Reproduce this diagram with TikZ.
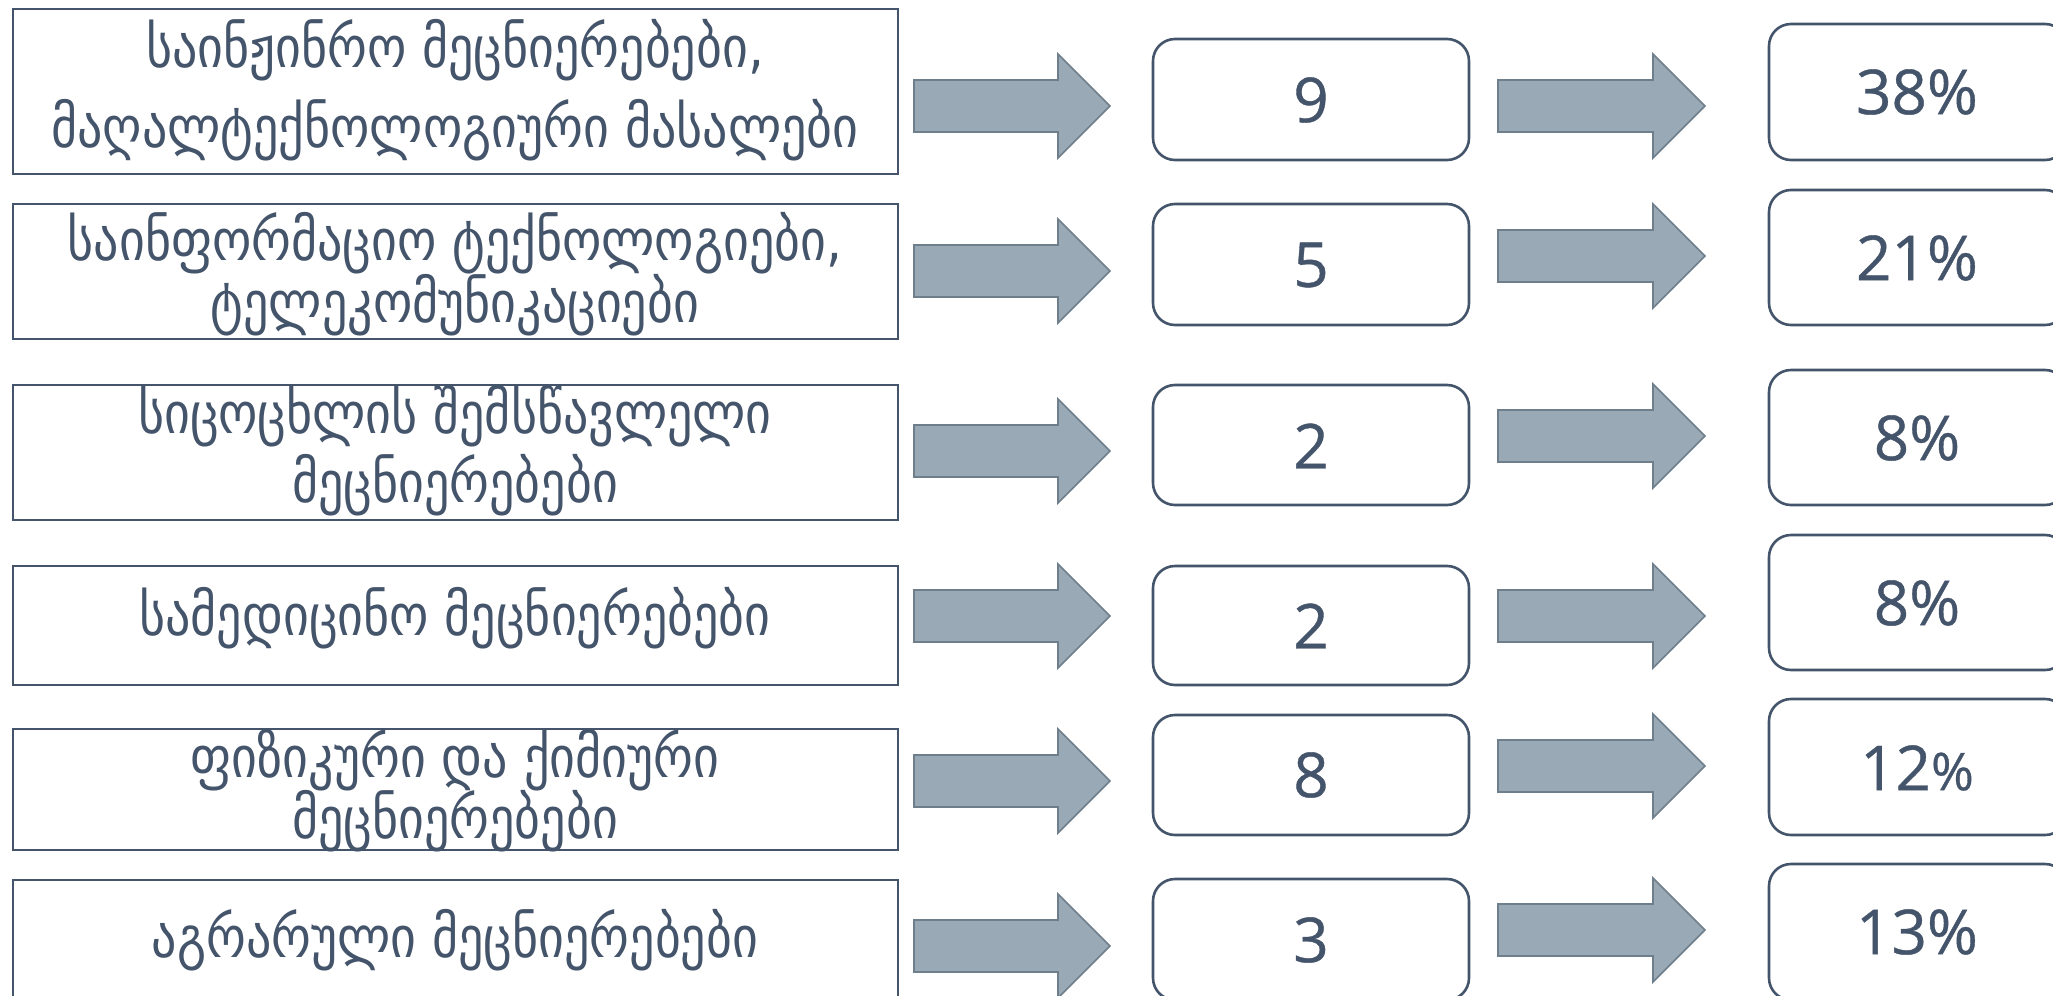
\documentclass[tikz,border=0pt]{standalone}
\usepackage{fontspec}
\setmainfont{DejaVu Sans}
\newfontfamily\numfont[FakeBold=0.6]{Open Sans}
\definecolor{slate}{HTML}{44546A}
\definecolor{arrowfill}{HTML}{9AA9B6}
\definecolor{arrowline}{HTML}{6F7E8B}

% block arrow: start x, head base x, tip x, centre y
\newcommand\blockarr[4]{%
  \draw[blockarrow] (#1,#4-26) -- (#2,#4-26) -- (#2,#4-52) -- (#3,#4)
    -- (#2,#4+52) -- (#2,#4+26) -- (#1,#4+26) -- cycle;}
% Georgian labels are set a little taller than the font's own proportions
\newcommand\tallword[1]{\scalebox{1}[1.15]{#1}}

\begin{document}
\begin{tikzpicture}[x=0.5pt,y=-0.5pt,
  catbox/.style={draw=slate, line width=1.2pt},
  valbox/.style={draw=slate, line width=1.3pt, rounded corners=11pt},
  blockarrow/.style={fill=arrowfill, draw=arrowline, line width=0.8pt, line join=miter},
  cattext/.style={anchor=base, inner sep=0pt, text=slate, font=\fontsize{25}{30}\selectfont},
  valtext/.style={inner sep=0pt, text=slate, font=\numfont\fontsize{31}{36}\selectfont},
]
\useasboundingbox (0,0) rectangle (2053,996);
\clip (0,0) rectangle (2053,996);

% category frames
\draw[catbox] (13,9)   rectangle (898,174);
\draw[catbox] (13,204) rectangle (898,339);
\draw[catbox] (13,385) rectangle (898,520);
\draw[catbox] (13,566) rectangle (898,685);
\draw[catbox] (13,729) rectangle (898,850);
\draw[catbox] (13,880) rectangle (898,1015);

% category names
\node[cattext] (c1a) at (455,67)  {\tallword{საინჟინრო მეცნიერებები,}};
\node[cattext] (c1b) at (455,147) {\tallword{მაღალტექნოლოგიური მასალები}};
\node[cattext] (c2a) at (455,260) {\tallword{საინფორმაციო ტექნოლოგიები,}};
\node[cattext] (c2b) at (455,322) {\tallword{ტელეკომუნიკაციები}};
\node[cattext] (c3a) at (455,433) {\tallword{სიცოცხლის შემსწავლელი}};
\node[cattext] (c3b) at (455,502) {\tallword{მეცნიერებები}};
\node[cattext] (c4)  at (455,635) {\tallword{სამედიცინო მეცნიერებები}};
\node[cattext] (c5a) at (455,777) {\tallword{ფიზიკური და ქიმიური}};
\node[cattext] (c5b) at (455,838) {\tallword{მეცნიერებები}};
\node[cattext] (c6)  at (455,957) {\tallword{აგრარული მეცნიერებები}};

% arrows into the counts
\blockarr{914}{1058}{1110}{106}
\blockarr{914}{1058}{1110}{271}
\blockarr{914}{1058}{1110}{451}
\blockarr{914}{1058}{1110}{616}
\blockarr{914}{1058}{1110}{781}
\blockarr{914}{1058}{1110}{946}

% count boxes
\draw[valbox] (1153,39)  rectangle (1469,160);
\draw[valbox] (1153,204) rectangle (1469,325);
\draw[valbox] (1153,385) rectangle (1469,505);
\draw[valbox] (1153,566) rectangle (1469,685);
\draw[valbox] (1153,715) rectangle (1469,835);
\draw[valbox] (1153,879) rectangle (1469,1000);

\node[valtext] (n1) at (1311,100) {9};
\node[valtext] (n2) at (1311,265) {5};
\node[valtext] (n3) at (1311,446) {2};
\node[valtext] (n4) at (1311,626) {2};
\node[valtext] (n5) at (1311,775) {8};
\node[valtext] (n6) at (1311,940) {3};

% arrows into the shares
\blockarr{1498}{1653}{1705}{106}
\blockarr{1498}{1653}{1705}{256}
\blockarr{1498}{1653}{1705}{436}
\blockarr{1498}{1653}{1705}{616}
\blockarr{1498}{1653}{1705}{766}
\blockarr{1498}{1653}{1705}{930}

% share boxes
\draw[valbox] (1769,24)  rectangle (2067,160);
\draw[valbox] (1769,190) rectangle (2067,325);
\draw[valbox] (1769,370) rectangle (2067,505);
\draw[valbox] (1769,535) rectangle (2067,670);
\draw[valbox] (1769,699) rectangle (2067,835);
\draw[valbox] (1769,864) rectangle (2067,1000);

\node[valtext] (p1) at (1917,92)  {38\%};
\node[valtext] (p2) at (1917,258) {21\%};
\node[valtext] (p3) at (1917,438) {8\%};
\node[valtext] (p4) at (1917,603) {8\%};
\node[valtext] (p5) at (1917,768) {12{\fontsize{26}{30}\selectfont\%}};
\node[valtext] (p6) at (1917,932) {13\%};
\end{tikzpicture}
\end{document}
